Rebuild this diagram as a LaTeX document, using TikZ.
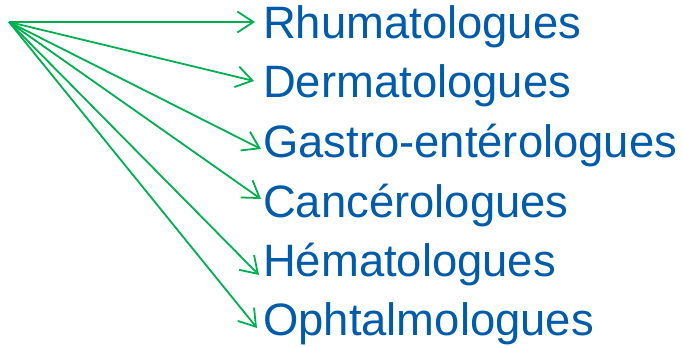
\documentclass[tikz,border=0pt]{standalone}
\usepackage{fontspec}
\setmainfont{Liberation Sans}
\usetikzlibrary{arrows.meta}
\definecolor{TextBlue}{HTML}{005BAA}
\definecolor{ArrowGreen}{HTML}{00B050}

\begin{document}
\begin{tikzpicture}[x=1pt, y=-1pt,
    lbl/.style={font=\fontsize{45.4}{54}\selectfont, TextBlue, inner sep=0pt, anchor=base west},
    arr/.style={-{Straight Barb[length=16pt, width=21pt]}, ArrowGreen, line width=1.8pt}
]
\useasboundingbox (0,0) rectangle (683,347);
% Common start of the arrows
\coordinate (src) at (9,22);

% Specialities: name/text/baseline/tip offset
\foreach \name/\txt/\base/\dx/\dy in {
    rhum/Rhumatologues/39/-8/-17,
    derm/Dermatologues/98/-9/-17,
    gastro/Gastro-entérologues/158/-2/-9,
    cancer/Cancérologues/218/-2/-19,
    hemato/Hématologues/277/-4/-2,
    ophta/Ophtalmologues/336/-6/-8} {
    \node[lbl] (\name) at (263,\base) {\txt};
    \draw[arr] (src) -- ([shift={(\dx,\dy)}]\name.base west);
}
\end{tikzpicture}
\end{document}
